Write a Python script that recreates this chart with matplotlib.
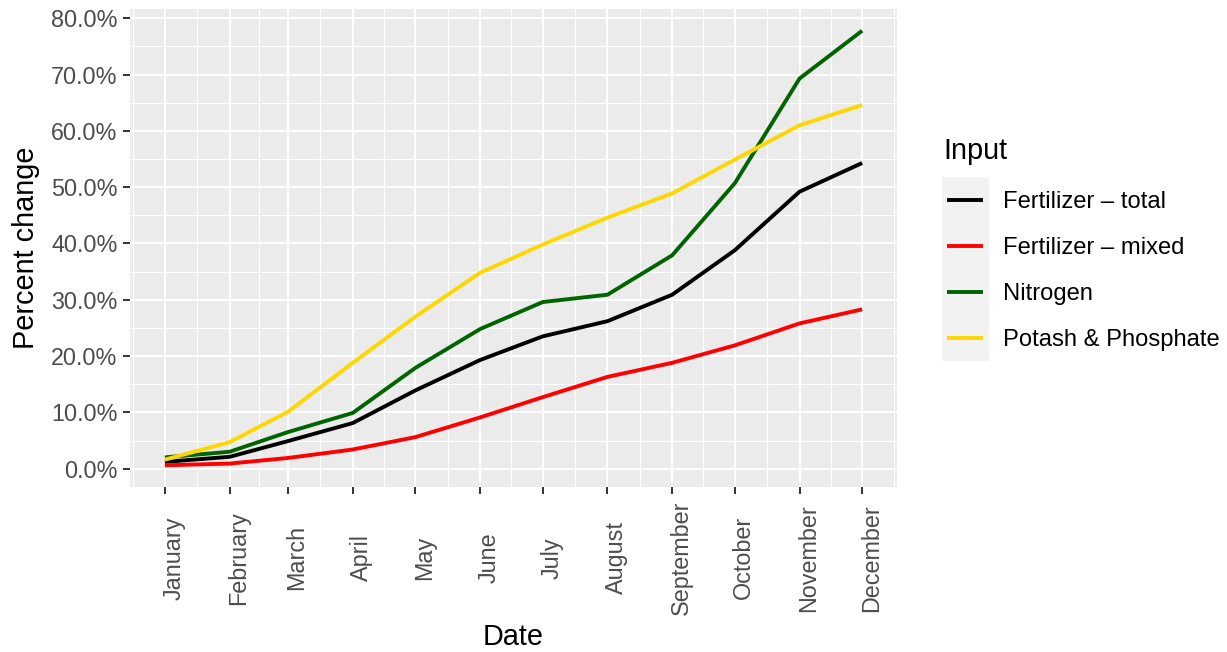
import numpy as np
import matplotlib
matplotlib.use("Agg")
from matplotlib import pyplot as plt
import matplotlib.dates as mdates
from matplotlib.lines import Line2D
from matplotlib.patches import Rectangle
from matplotlib.ticker import PercentFormatter, MultipleLocator
from matplotlib.transforms import ScaledTranslation

plt.rcParams['font.family'] = ['Liberation Sans', 'DejaVu Sans']

months = np.array(['2022-01-01', '2022-02-01', '2022-03-01', '2022-04-01',
                   '2022-05-01', '2022-06-01', '2022-07-01', '2022-08-01',
                   '2022-09-01', '2022-10-01', '2022-11-01', '2022-12-01'],
                  dtype='datetime64[D]')

series_names = ["Fertilizer \u2013 total", "Fertilizer \u2013 mixed",
                "Nitrogen", "Potash & Phosphate"]
series_colors = ["black", "#FF0000", "#006400", "#FFD700"]

fert_total = [1.2, 2.1, 4.9, 8.1, 13.9, 19.3, 23.5, 26.2, 30.9, 38.8, 49.2, 54.3]
fert_mixed = [0.6, 0.9, 1.9, 3.4, 5.6, 9.1, 12.7, 16.3, 18.8, 21.9, 25.8, 28.3]
nitrogen = [2.0, 3.0, 6.5, 9.9, 17.9, 24.8, 29.6, 30.9, 37.9, 50.7, 69.3, 77.8]
potash = [1.6, 4.7, 10.1, 18.8, 27.0, 34.8, 39.8, 44.6, 48.9, 54.9, 61.0, 64.6]
values = [fert_total, fert_mixed, nitrogen, potash]

W, H = 1227, 652
fig = plt.figure(figsize=(W / 100, H / 100), dpi=100)
ax = fig.add_axes([130 / W, 1 - 487 / H, (897 - 130) / W, (487 - 9) / H])
ax.set_facecolor("#EBEBEB")
for s in ax.spines.values():
    s.set_visible(False)

for name, col, vals in zip(series_names, series_colors, values):
    ax.plot(months, vals, color=col, lw=2.8, solid_capstyle='butt', zorder=3)

ax.margins(x=0.05, y=0.05)

# grid: major at month starts, minor halfway between
ax.set_xticks(months)
edges = np.concatenate([[np.datetime64('2021-12-01')], months, [np.datetime64('2023-01-01')]])
en = mdates.date2num(edges)
ax.set_xticks((en[:-1] + en[1:]) / 2, minor=True)
ax.xaxis.set_major_formatter(mdates.DateFormatter('%B'))
ax.yaxis.set_major_locator(MultipleLocator(10))
ax.yaxis.set_minor_locator(MultipleLocator(5))
ax.yaxis.set_major_formatter(PercentFormatter(xmax=100, decimals=1))

ax.grid(which='major', color='white', lw=1.5, zorder=1)
ax.grid(which='minor', color='white', lw=0.8, zorder=1)
ax.set_axisbelow(True)

ax.tick_params(which='major', length=5, width=1.4, color='#333333',
               labelsize=16.8, labelcolor='#4D4D4D')
ax.tick_params(which='minor', length=0)
ax.tick_params(axis='y', pad=4)
ax.tick_params(axis='x', pad=46)
for lab in ax.get_xticklabels():
    lab.set_rotation(90)
    lab.set_va('center')
    lab.set_ha('center')
    lab.set_transform(lab.get_transform() + ScaledTranslation(9 / 100, 0, fig.dpi_scale_trans))

ax.set_xlabel("Date", fontsize=20.8, labelpad=6)
ax.set_ylabel("Percent change", fontsize=20.8, labelpad=8)

# legend
def fp(x, y):
    return x / W, 1 - y / H

fig.text(*fp(943, 151), "Input", fontsize=20.8, ha='left', va='center')
x0, y0 = fp(942, 361)
x1, y1 = fp(989, 177)
fig.add_artist(Rectangle((x0, y0), x1 - x0, y1 - y0, transform=fig.transFigure,
                         facecolor='#F2F2F2', edgecolor='none'))
for i, (name, col) in enumerate(zip(series_names, series_colors)):
    yy = 200 + i * 46
    xa, ya = fp(947, yy)
    xb, _ = fp(983, yy)
    fig.add_artist(Line2D([xa, xb], [ya, ya], transform=fig.transFigure,
                          color=col, lw=2.8, solid_capstyle='butt'))
    fig.text(*fp(1003, yy + 2), name, fontsize=17.1, ha='left', va='center')

fig.savefig("out.png", dpi=100)
